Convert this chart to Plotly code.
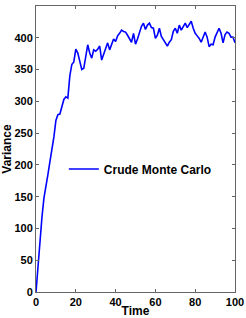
import plotly.graph_objects as go

time = list(range(0, 101))
variance = [
    0, 42, 85, 118, 148, 170, 185, 205, 222, 244,
    270, 279, 280, 290, 303, 307, 305, 340, 358, 362,
    382, 376, 360, 350, 352, 372, 389, 376, 368, 381,
    379, 382, 387, 365, 375, 383, 392, 381, 390, 398,
    394, 403, 407, 412, 410, 409, 404, 398, 393, 407,
    390, 398, 409, 418, 423, 413, 420, 423, 416, 415,
    399, 404, 415, 402, 397, 392, 387, 393, 397, 410,
    415, 407, 420, 412, 418, 423, 416, 421, 426, 415,
    407, 403, 399, 393, 400, 409, 401, 386, 390, 389,
    401, 408, 415, 407, 392, 405, 409, 407, 401, 401,
    392,
]
x_ticks = [0, 20, 40, 60, 80, 100]
y_ticks = [0, 50, 100, 150, 200, 250, 300, 350, 400, 450]
series_name = "Crude Monte Carlo"

font_family = "Liberation Sans, Arial, sans-serif"

fig = go.Figure()
fig.add_trace(go.Scatter(
    x=time, y=variance, mode="lines", name=series_name,
    line=dict(color="#0000ff", width=1.6),
))

axis_common = dict(
    showline=True, linecolor="#666666", linewidth=1, mirror="ticks",
    ticks="inside", ticklen=3, tickcolor="#666666",
    showgrid=False, zeroline=False, automargin=False,
    tickfont=dict(family=font_family, size=11, color="black", weight="bold"),
)

fig.update_layout(
    width=246, height=318,
    margin=dict(l=36, r=11, t=6, b=26),
    paper_bgcolor="white", plot_bgcolor="white",
    showlegend=True,
    legend=dict(
        x=0.14, y=0.43, xanchor="left", yanchor="middle",
        bgcolor="rgba(0,0,0,0)", borderwidth=0,
        font=dict(family=font_family, size=12, color="black", weight="bold"),
        itemwidth=30,
    ),
    xaxis=dict(
        range=[0, 100], tickvals=x_ticks, ticklabelstandoff=0,
        title=dict(text="Time", standoff=0,
                   font=dict(family=font_family, size=12, color="black", weight="bold")),
        **axis_common,
    ),
    yaxis=dict(
        range=[0, 450], tickvals=y_ticks, ticklabelstandoff=0,
        title=dict(text="Variance", standoff=0,
                   font=dict(family=font_family, size=12, color="black", weight="bold")),
        **axis_common,
    ),
)

fig.write_html(
    "out.html",
    config={"displayModeBar": False},
    post_script="document.body.style.margin='0';document.body.style.overflow='hidden';",
)
